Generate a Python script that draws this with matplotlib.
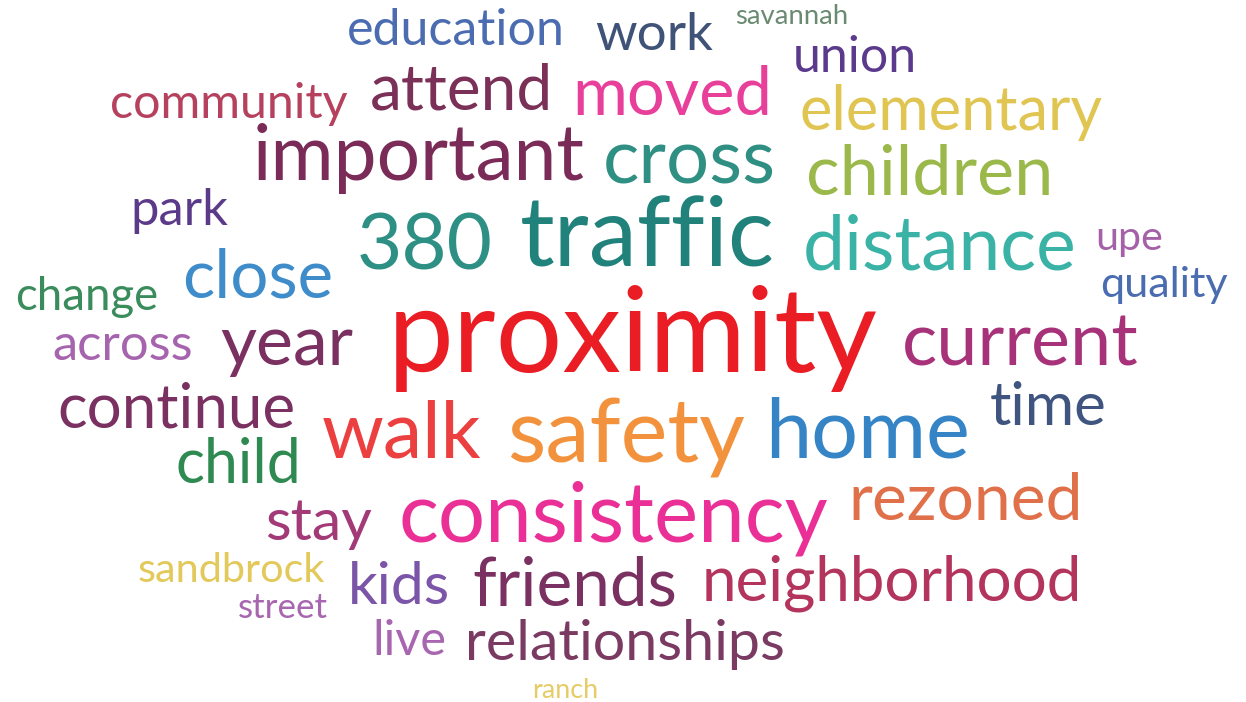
import matplotlib
matplotlib.use("Agg")
import matplotlib.pyplot as plt

# ---- data ----
words = ["education", "work", "savannah", "union", "community", "attend", "moved",
         "elementary", "important", "cross", "children", "park", "380", "traffic",
         "distance", "upe", "quality", "close", "change", "proximity", "across",
         "year", "current", "continue", "time", "walk", "safety", "home", "child",
         "rezoned", "stay", "consistency", "sandbrock", "kids", "friends",
         "neighborhood", "street", "live", "relationships", "ranch"]

colors = ["#4b6cb0", "#3f5277", "#6a8a72", "#5b3a8e", "#b5415f", "#7b3058", "#e8409a",
          "#e0c552", "#7a2b57", "#2e8f82", "#9ab94a", "#5c3a8a", "#2e8f84", "#20827a",
          "#3ab3a6", "#a461a8", "#4a6cb0", "#3f8ccb", "#3b8c5c", "#ea1c24", "#a564ad",
          "#7a3060", "#a8327a", "#7a3060", "#3f5580", "#ec3f3f", "#f3923c", "#3585c6",
          "#2e8a50", "#e0704a", "#a33a78", "#ea3096", "#e3c85a", "#7b55a8", "#7a3060",
          "#b3345c", "#a866b0", "#a866b0", "#7a3a62", "#e6cc66"]

# ---- layout (left px, right px, baseline px) ----
layout = [(347, 565, 45), (595, 713, 50), (735, 848, 24), (793, 917, 72),
          (110, 348, 118), (370, 553, 110), (572, 772, 115), (800, 1103, 130),
          (253, 585, 180), (603, 776, 183), (806, 1053, 195), (130, 228, 225),
          (357, 493, 270), (520, 775, 265), (803, 1077, 270), (1095, 1163, 250),
          (1100, 1228, 297), (182, 333, 297), (15, 158, 310), (388, 878, 372),
          (52, 193, 360), (220, 353, 365), (902, 1138, 365), (57, 295, 428),
          (990, 1107, 425), (322, 482, 458), (507, 745, 462), (765, 970, 458),
          (176, 302, 483), (848, 1083, 520), (265, 372, 540), (398, 828, 542),
          (138, 325, 582), (348, 450, 604), (472, 677, 605), (702, 1083, 600),
          (238, 328, 618), (372, 446, 655), (465, 785, 660), (532, 598, 698)]

W, H = 1246, 702
fig = plt.figure(figsize=(W / 100, H / 100), dpi=100)
ax = fig.add_axes([0, 0, 1, 1])
ax.set_xlim(0, W)
ax.set_ylim(H, 0)
ax.axis("off")
fig.patch.set_facecolor("white")

renderer = fig.canvas.get_renderer()
for word, col, (x0, x1, yb) in zip(words, colors, layout):
    t = ax.text(x0, yb, word, fontsize=100, family="Lato", color=col,
                ha="left", va="baseline")
    w = t.get_window_extent(renderer).width
    t.set_fontsize(100 * (x1 - x0) / w)

fig.savefig("out.png", dpi=100, facecolor="white")
